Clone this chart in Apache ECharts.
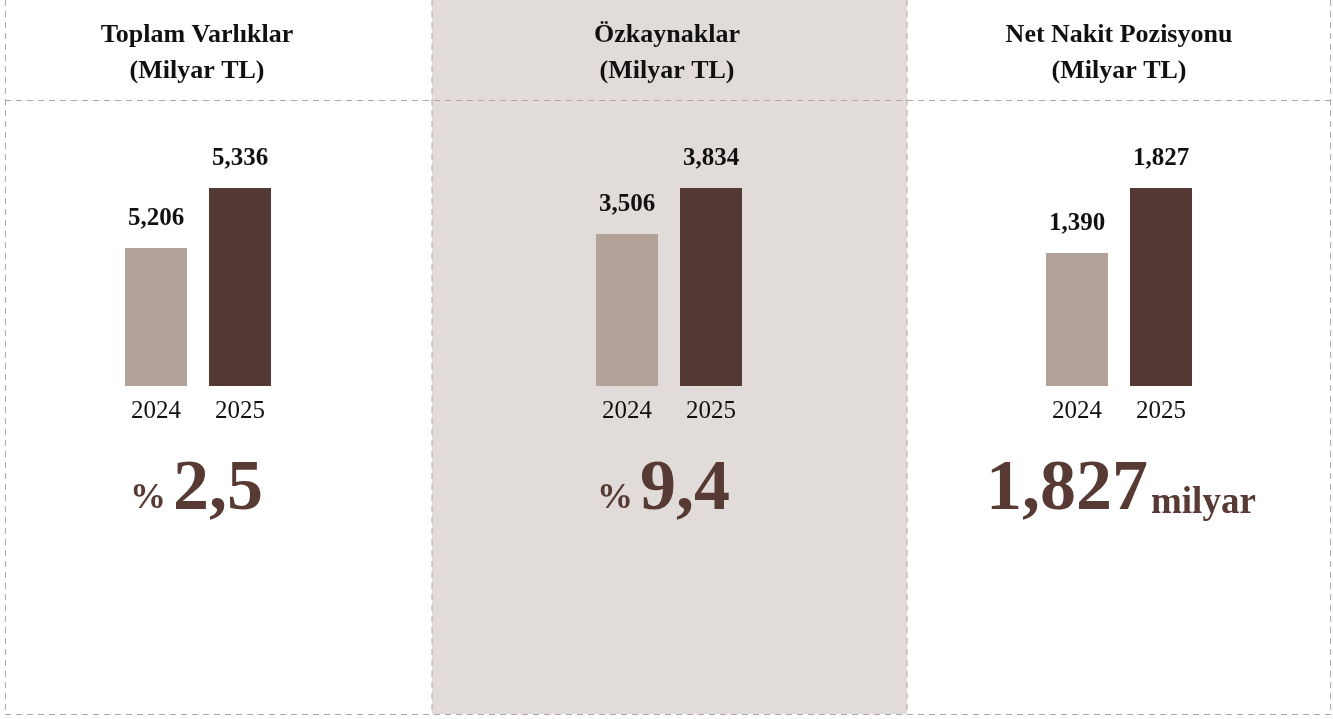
<!doctype html>
<html>

<head>
    <meta charset="utf-8">
    <title>finansal göstergeler</title>
    <script src="https://cdn.jsdelivr.net/npm/echarts@6/dist/echarts.min.js"></script>
    <style>
        html, body {
            margin: 0;
            padding: 0;
            background: #fff;
        }
        #container {
            width: 1333px;
            height: 719px;
        }
    </style>
</head>

<body>

    <div id="container"></div>

    <script type="text/javascript">
        // veriler
        var years = ['2024', '2025'];
        var titles = ['Toplam Varlıklar', 'Özkaynaklar', 'Net Nakit Pozisyonu'];
        var unit = '(Milyar TL)';
        var toplamVarliklar = [5206, 5336];
        var ozkaynaklar = [3506, 3834];
        var netNakit = [1390, 1827];
        var bigPrefix = ['%', '%', ''];
        var bigValue = ['2,5', '9,4', '1,827'];
        var bigSuffix = ['', '', 'milyar'];

        var seriesData = [toplamVarliklar, ozkaynaklar, netNakit];
        // eksenler kesik (0'dan başlamıyor)
        var yMin = [4907, 2422, 496];

        var light = '#b3a29a';
        var dark = '#533833';
        var bigColor = '#583a34';
        var borderColor = '#b3a5a1';
        var serif = '"Liberation Serif", "DejaVu Serif", serif';

        // panel yerleşimi
        var gridLeft = [114, 585, 1035];
        var centers = [197, 667, 1119];
        var bigSplit = [169, 636, 1148];

        var grids = [], xAxes = [], yAxes = [], series = [], graphics = [];

        // orta panel arka planı
        graphics.push({
            type: 'rect',
            shape: { x: 432, y: 0, width: 475, height: 714 },
            style: { fill: '#e1dcd9' },
            z: -10
        });

        function dashed(x1, y1, x2, y2) {
            graphics.push({
                type: 'line',
                shape: { x1: x1, y1: y1, x2: x2, y2: y2 },
                style: { stroke: borderColor, lineWidth: 1, lineDash: [6, 5] },
                z: -5
            });
        }
        dashed(5.5, 0, 5.5, 714);
        dashed(432, 0, 432, 714);
        dashed(907, 0, 907, 714);
        dashed(1330.5, 0, 1330.5, 714);
        dashed(5, 100.5, 1331, 100.5);
        dashed(5, 714.5, 1331, 714.5);

        for (var i = 0; i < 3; i++) {
            grids.push({ left: gridLeft[i], top: 188, width: 168, height: 198 });
            xAxes.push({
                type: 'category',
                gridIndex: i,
                data: years,
                axisLine: { show: false },
                axisTick: { show: false },
                axisLabel: {
                    margin: 13,
                    color: '#111',
                    fontFamily: serif,
                    fontSize: 25
                }
            });
            yAxes.push({
                type: 'value',
                gridIndex: i,
                min: yMin[i],
                max: seriesData[i][1],
                show: false,
                splitLine: { show: false }
            });
            series.push({
                type: 'bar',
                xAxisIndex: i,
                yAxisIndex: i,
                barWidth: 62,
                data: seriesData[i],
                itemStyle: {
                    color: function(p) {
                        return p.dataIndex === 0 ? light : dark;
                    }
                },
                label: {
                    show: true,
                    position: 'top',
                    distance: 17,
                    color: '#111',
                    fontFamily: serif,
                    fontWeight: 'bold',
                    fontSize: 25,
                    formatter: function(p) {
                        return p.value.toLocaleString('en-US');
                    }
                }
            });

            // başlık
            graphics.push({
                type: 'text',
                x: centers[i],
                y: 53,
                style: {
                    text: titles[i] + '\n' + unit,
                    fill: '#111',
                    font: 'bold 26px ' + serif,
                    lineHeight: 36,
                    align: 'center',
                    verticalAlign: 'middle'
                }
            });

            // büyük rakam
            if (bigPrefix[i]) {
                graphics.push({
                    type: 'text',
                    x: bigSplit[i] - 3,
                    y: 499,
                    style: {
                        text: bigPrefix[i],
                        fill: bigColor,
                        font: 'bold 36px ' + serif,
                        align: 'right',
                        verticalAlign: 'middle'
                    }
                });
            }
            graphics.push({
                type: 'text',
                x: bigSuffix[i] ? bigSplit[i] : bigSplit[i] + 4,
                y: 490,
                style: {
                    text: bigValue[i],
                    fill: bigColor,
                    font: 'bold 72px ' + serif,
                    align: bigSuffix[i] ? 'right' : 'left',
                    verticalAlign: 'middle'
                }
            });
            if (bigSuffix[i]) {
                graphics.push({
                    type: 'text',
                    x: bigSplit[i] + 3,
                    y: 503,
                    style: {
                        text: bigSuffix[i],
                        fill: bigColor,
                        font: 'bold 37px ' + serif,
                        align: 'left',
                        verticalAlign: 'middle'
                    }
                });
            }
        }

        var option = {
            backgroundColor: '#fff',
            animation: false,
            grid: grids,
            xAxis: xAxes,
            yAxis: yAxes,
            series: series,
            graphic: graphics
        };

        var myChart = echarts.init(document.getElementById('container'));
        myChart.setOption(option);
    </script>
</body>

</html>
